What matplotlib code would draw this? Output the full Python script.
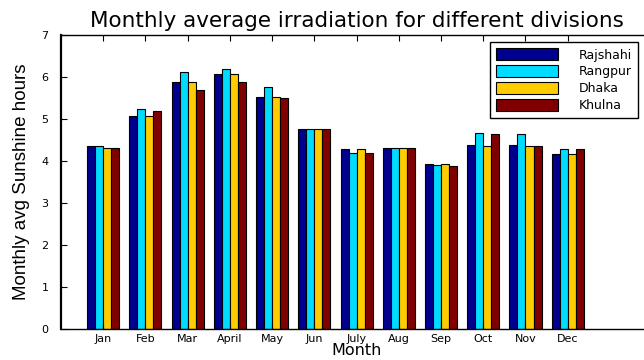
import numpy as np
import matplotlib.pyplot as plt

months = ['Jan', 'Feb', 'Mar', 'April', 'May', 'Jun',
          'July', 'Aug', 'Sep', 'Oct', 'Nov', 'Dec']
divisions = ['Rajshahi', 'Rangpur', 'Dhaka', 'Khulna']

rajshahi = [4.35, 5.07, 5.87, 6.06, 5.52, 4.75, 4.28, 4.32, 3.92, 4.37, 4.37, 4.17]
rangpur  = [4.35, 5.24, 6.12, 6.20, 5.75, 4.77, 4.19, 4.30, 3.90, 4.67, 4.65, 4.28]
dhaka    = [4.31, 5.07, 5.87, 6.06, 5.52, 4.75, 4.28, 4.32, 3.92, 4.36, 4.36, 4.16]
khulna   = [4.32, 5.20, 5.70, 5.87, 5.51, 4.76, 4.19, 4.30, 3.88, 4.65, 4.35, 4.28]

colors = ['#00008f', '#00dcff', '#ffcc00', '#800000']

plt.rcParams['font.family'] = ['DejaVu Sans']

fig = plt.figure(figsize=(6.44, 3.6), dpi=100)
# axes run past the right edge of the figure on purpose (xlim 0..14)
ax = fig.add_axes([0.0947, 0.0861, 0.918, 0.8167])

x = np.arange(1, len(months) + 1)
w = 0.19
series = [rajshahi, rangpur, dhaka, khulna]
for i, (vals, c, name) in enumerate(zip(series, colors, divisions)):
    ax.bar(x + (i - 1.5) * w, vals, width=w, color=c, edgecolor='black',
           linewidth=0.8, label=name)

ax.set_xlim(0, 14)
ax.set_ylim(0, 7)
ax.set_xticks(x)
ax.set_xticklabels(months, fontsize=8)
ax.set_yticks(np.arange(0, 8))
ax.tick_params(axis='y', labelsize=8, pad=9)
ax.tick_params(axis='x', pad=3.5)
ax.tick_params(direction='in', length=4, top=True, right=True, width=0.8)
for s in ax.spines.values():
    s.set_linewidth(1.0)
ax.spines['left'].set_linewidth(1.6)

ax.set_title('Monthly average irradiation for different divisions',
             fontsize=15.5, pad=6)
ax.set_xlabel('Month', fontsize=11.5, labelpad=-0.5)
ax.set_ylabel('Monthly avg Sunshine hours', fontsize=13.5, labelpad=8,
              family=['Liberation Sans Narrow', 'Liberation Sans'])

leg = ax.legend(loc='upper right', bbox_to_anchor=(0.976, 0.976),
                fontsize=9, handlelength=5.0, handleheight=1.1,
                handletextpad=1.6, labelspacing=0.28, borderpad=0.5,
                borderaxespad=0, fancybox=False, edgecolor='black',
                framealpha=1)
leg.get_frame().set_linewidth(1.0)

fig.savefig('out.png', dpi=100)
